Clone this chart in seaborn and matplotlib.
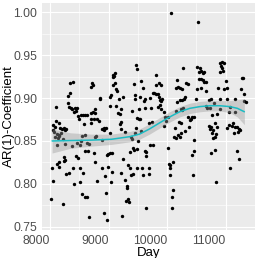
import matplotlib
matplotlib.use("Agg")
import matplotlib.pyplot as plt
import pandas as pd
import seaborn as sns

day = [8051, 8085, 8102, 8153, 8068, 8085, 8136, 8153, 8119, 8102, 8170, 8204, 8239, 8273,
       8222, 8256, 8307, 8341, 8341, 8307, 8324, 8034, 8119, 8153, 8153, 8051, 8239, 8239,
       8273, 8324, 8017, 8222, 8051, 8119, 8153, 8187, 8256, 8256,
       8392, 8358, 8375, 8426, 8460, 8443, 8477, 8409, 8528, 8562, 8596, 8630, 8494, 8579,
       8375, 8460, 8511, 8630, 8665, 8545, 8596, 8716, 8733, 8699, 8699, 8733, 8767, 8699,
       8750, 8767, 8699, 8767, 8784, 8801, 8852, 8409, 8443, 8477, 8392, 8511, 8511, 8562,
       8596, 8647, 8750, 8767, 8801, 8545, 8596, 8630, 8665, 8528,
       8852, 9022, 9039, 9073, 9108, 9073, 9090, 9073, 9108, 9125, 9142, 9176, 9244, 9022,
       9125, 9159, 9193, 9210, 8835, 8886, 8920, 8954, 8920, 9210, 9193, 9210, 9278, 9022,
       8886, 8988, 9022, 9056, 8971, 9244, 9329, 9363, 8886, 8988, 9056, 9210, 8937, 9039,
       9278, 9312, 9312, 8954, 9295, 9329, 9346, 8920, 9227, 8971, 9363,
       9465, 9482, 9431, 9448, 9448, 9534, 9551, 9585, 9619, 9602, 9704, 9755, 9397, 9517,
       9619, 9721, 9482, 9517, 9534, 9465, 9448, 9551, 9687, 9738, 9380, 9397, 9500, 9414,
       9482, 9431, 9482, 9380, 9414, 9568, 9585, 9619, 9636, 9687, 9687, 9704, 9755, 9636,
       9636, 9806, 9806, 9857, 9891, 9772, 9806, 9840, 9857, 9874, 9891, 9908, 9840, 9891,
       9874, 9943,
       9960, 10011, 9977, 9943, 10130, 10198, 10232, 10351, 10386, 10420, 10454, 10403,
       10369, 10181, 10215, 10232, 10113, 10147, 10011, 10266, 10164, 10147, 10181, 10215,
       10249, 10317, 10351, 10164, 10215, 10249, 10283, 10300, 10147, 10232, 10249, 10266,
       10028, 10045, 10096, 10045, 10045, 10096, 10079, 10079, 10454, 10454, 10420, 10437,
       10300, 10062, 10522, 10505, 10556, 10539, 10573, 10607, 10624, 10539, 10573, 10607,
       10624, 10658, 10505, 10573, 10658, 10488, 10658,
       10709, 10743, 10794, 10675, 10726, 10760, 10897, 10931, 10965, 10914, 10931, 10897,
       10948, 10863, 10965, 11016, 10999, 10897, 11016, 11152, 11272, 11289, 11255, 11306,
       11306, 11340, 10897, 11067, 11050, 11152, 10846, 11118, 11050, 11101, 11152, 11186,
       11220, 11203, 11135, 11016, 10812, 10846, 10777, 10829, 10777, 10812, 10743, 10812,
       10829, 11067, 11186, 11220, 11238, 10709, 10743, 10726, 10760]
coef = [0.869, 0.866, 0.873, 0.871, 0.861, 0.855, 0.854, 0.856, 0.845, 0.890, 0.865, 0.864,
        0.865, 0.864, 0.852, 0.847, 0.902, 0.906, 0.918, 0.894, 0.890, 0.819, 0.823, 0.825,
        0.820, 0.804, 0.827, 0.831, 0.812, 0.813, 0.783, 0.777, 0.863, 0.858, 0.857, 0.859,
        0.863, 0.828,
        0.919, 0.888, 0.887, 0.888, 0.888, 0.885, 0.879, 0.884, 0.880, 0.880, 0.880, 0.880,
        0.875, 0.870, 0.844, 0.848, 0.845, 0.848, 0.847, 0.856, 0.857, 0.918, 0.915, 0.913,
        0.883, 0.884, 0.883, 0.875, 0.875, 0.887, 0.871, 0.855, 0.856, 0.876, 0.899, 0.800,
        0.833, 0.830, 0.819, 0.818, 0.802, 0.813, 0.838, 0.838, 0.836, 0.825, 0.804, 0.788,
        0.785, 0.785, 0.762, 0.850,
        0.900, 0.901, 0.904, 0.927, 0.929, 0.924, 0.926, 0.915, 0.918, 0.911, 0.908, 0.899,
        0.901, 0.891, 0.891, 0.883, 0.881, 0.887, 0.873, 0.864, 0.865, 0.865, 0.863, 0.872,
        0.870, 0.864, 0.861, 0.859, 0.851, 0.835, 0.836, 0.836, 0.834, 0.829, 0.822, 0.819,
        0.819, 0.820, 0.814, 0.813, 0.809, 0.802, 0.805, 0.798, 0.795, 0.790, 0.780, 0.783,
        0.779, 0.766, 0.763, 0.758, 0.837,
        0.938, 0.934, 0.916, 0.903, 0.899, 0.901, 0.920, 0.912, 0.899, 0.897, 0.900, 0.906,
        0.885, 0.887, 0.888, 0.888, 0.877, 0.876, 0.875, 0.865, 0.859, 0.862, 0.871, 0.872,
        0.855, 0.852, 0.850, 0.842, 0.841, 0.840, 0.818, 0.811, 0.812, 0.818, 0.811, 0.838,
        0.833, 0.819, 0.812, 0.845, 0.845, 0.772, 0.837, 0.927, 0.915, 0.918, 0.915, 0.906,
        0.905, 0.905, 0.901, 0.898, 0.897, 0.899, 0.890, 0.887, 0.892, 0.884,
        0.878, 0.878, 0.873, 0.867, 0.865, 0.872, 0.871, 0.878, 0.874, 0.878, 0.878, 0.876,
        0.866, 0.857, 0.855, 0.859, 0.855, 0.854, 0.842, 0.935, 0.921, 0.912, 0.913, 0.912,
        0.911, 0.918, 0.916, 0.895, 0.898, 0.898, 0.899, 0.901, 0.885, 0.887, 0.886, 0.888,
        0.823, 0.822, 0.826, 0.818, 0.811, 0.793, 0.785, 0.772, 0.851, 0.838, 0.834, 0.811,
        0.862, 0.999, 0.988, 0.936, 0.935, 0.930, 0.931, 0.929, 0.930, 0.922, 0.922, 0.921,
        0.919, 0.919, 0.911, 0.912, 0.908, 0.899, 0.891,
        0.898, 0.899, 0.894, 0.888, 0.888, 0.880, 0.941, 0.942, 0.941, 0.937, 0.935, 0.930,
        0.931, 0.912, 0.911, 0.912, 0.920, 0.899, 0.899, 0.899, 0.923, 0.923, 0.911, 0.905,
        0.897, 0.895, 0.887, 0.890, 0.884, 0.884, 0.881, 0.871, 0.869, 0.868, 0.866, 0.866,
        0.864, 0.861, 0.859, 0.865, 0.871, 0.866, 0.863, 0.858, 0.854, 0.855, 0.836, 0.840,
        0.802, 0.818, 0.838, 0.829, 0.863, 0.868, 0.866, 0.864, 0.859]

# loess fit and its confidence half-width
smooth_day = [8035, 8350, 8700, 9050, 9360, 9530, 9700, 9870, 10045, 10215, 10390,
              10560, 10730, 10900, 11070, 11200, 11320]
smooth_fit = [0.850, 0.8505, 0.851, 0.852, 0.855, 0.858, 0.864, 0.871, 0.878, 0.884,
              0.888, 0.890, 0.891, 0.891, 0.890, 0.888, 0.884]
smooth_se = [0.014, 0.009, 0.007, 0.006, 0.006, 0.006, 0.006, 0.006, 0.006, 0.006,
             0.006, 0.006, 0.006, 0.006, 0.007, 0.010, 0.015]

x_ticks = [8000, 9000, 10000, 11000]
y_ticks = [0.75, 0.80, 0.85, 0.90, 0.95, 1.00]

df = pd.DataFrame({"Day": day, "AR(1)-Coefficient": coef})
fit = pd.DataFrame({"Day": smooth_day, "fit": smooth_fit, "se": smooth_se})
fit["lo"] = fit["fit"] - fit["se"]
fit["hi"] = fit["fit"] + fit["se"]

sns.set_theme(style="darkgrid")
plt.rcParams['font.family'] = ['Liberation Sans', 'DejaVu Sans']

fig, ax = plt.subplots(figsize=(2.58, 2.58), dpi=100)
fig.subplots_adjust(left=0.163, right=0.988, top=0.990, bottom=0.109)
ax.set_facecolor("#EBEBEB")

sns.scatterplot(data=df, x="Day", y="AR(1)-Coefficient", color="black", s=6,
                linewidth=0, ax=ax, zorder=3)
ax.fill_between(fit["Day"], fit["lo"], fit["hi"], color="#999999", alpha=0.4,
                linewidth=0, zorder=4)
sns.lineplot(data=fit, x="Day", y="fit", color="#1BBCC4", linewidth=1.1, ax=ax, zorder=5)

ax.set_xlim(7864, 11493)
ax.set_ylim(0.7466, 1.011)
ax.set_xticks(x_ticks)
# labels sit to the left of their tick, right edge on the tick
ax.set_xticklabels([str(t) for t in x_ticks], ha="right")
ax.set_yticks(y_ticks)
ax.set_yticklabels([f"{t:.2f}" for t in y_ticks])
ax.set_xticks([8500, 9500, 10500, 11500], minor=True)
ax.set_yticks([0.775, 0.825, 0.875, 0.925, 0.975], minor=True)
ax.grid(which="major", color="white", linewidth=0.8)
ax.grid(which="minor", color="white", linewidth=0.4)
for s in ax.spines.values():
    s.set_visible(False)

ax.tick_params(axis="both", which="major", length=2, width=0.6, color="#333333",
               labelsize=8.7, labelcolor="#4D4D4D", pad=1.5)
ax.tick_params(axis="both", which="minor", length=0)
ax.set_xlabel("Day", fontsize=9.5, color="black", labelpad=0)
ax.set_ylabel("AR(1)-Coefficient", fontsize=9.5, color="black")
ax.yaxis.set_label_coords(-0.125, 0.5)

plt.savefig("out.png", dpi=100)
